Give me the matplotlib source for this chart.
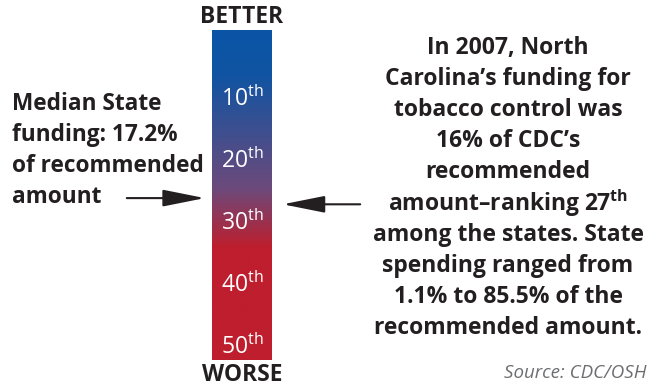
import numpy as np
import matplotlib.pyplot as plt
from matplotlib.colors import LinearSegmentedColormap

# rank scale shown on the bar
rank_ticks = [10, 20, 30, 40, 50]
median_rank = 26
nc_rank = 27

left_lines = ["Median State", "funding: 17.2%", "of recommended", "amount"]
right_lines = [
    "In 2007, North",
    "Carolina\u2019s funding for",
    "tobacco control was",
    "16% of CDC\u2019s",
    "recommended",
    "amount\u2013ranking 27$^{\\mathbf{th}}$",
    "among the states. State",
    "spending ranged from",
    "1.1% to 85.5% of the",
    "recommended amount.",
]

plt.rcParams["font.family"] = ["Open Sans", "DejaVu Sans"]
plt.rcParams["mathtext.fontset"] = "custom"
plt.rcParams["mathtext.rm"] = "Open Sans"
plt.rcParams["mathtext.bf"] = "Open Sans:bold"

W, H = 655, 387
dark = "#231f20"

fig = plt.figure(figsize=(W / 100, H / 100), dpi=100)


def fx(x):
    return x / W


def fy(y):
    return 1 - y / H


# gradient bar
ax = fig.add_axes([fx(212), fy(360), 60 / W, 330 / H])
top, bottom = -1.1, 52.1
cmap = LinearSegmentedColormap.from_list(
    "br", [(0, "#0b55a6"), (0.13, "#0f54a3"), (0.48, "#6c4a7b"),
           (0.66, "#be1e2d"), (1, "#be1e2d")])
grad = np.linspace(0, 1, 256).reshape(-1, 1)
ax.imshow(grad, extent=(0, 1, bottom, top), aspect="auto", cmap=cmap)
ax.set_xlim(0, 1)
ax.set_ylim(bottom, top)
ax.axis("off")

for r in rank_ticks:
    ax.text(0.5, r, f"{r}$^{{\\mathrm{{th}}}}$", color="white", fontsize=16.5,
            ha="center", va="center")

ax.text(0.5, top - 0.1, "BETTER", ha="center", va="bottom",
        fontsize=16.5, fontweight="bold", color=dark)
ax.text(0.5, bottom + 0.45, "WORSE", ha="center", va="top",
        fontsize=16.5, fontweight="bold", color=dark)

arrow = dict(arrowstyle="-|>,head_length=1.3,head_width=0.26", color=dark,
             lw=1.5, shrinkA=0, shrinkB=0, mutation_scale=20)
ax.annotate("", xy=(-0.12, median_rank), xytext=(-1.42, median_rank),
            xycoords=("axes fraction", "data"), textcoords=("axes fraction", "data"),
            arrowprops=arrow, annotation_clip=False)
ax.annotate("", xy=(1.18, nc_rank), xytext=(2.47, nc_rank),
            xycoords=("axes fraction", "data"), textcoords=("axes fraction", "data"),
            arrowprops=arrow, annotation_clip=False)

for i, line in enumerate(left_lines):
    fig.text(fx(12), fy(104 + i * 31), line, ha="left", va="center",
             fontsize=16.3, fontweight="bold", color=dark)

for i, line in enumerate(right_lines):
    fig.text(fx(508), fy(48 + i * 31.1), line, ha="center", va="center",
             fontsize=16.5, fontweight="bold", color=dark)

fig.text(fx(647), fy(373), "Source: CDC/OSH", ha="right", va="center",
         fontsize=13.5, style="italic", color="#6d6e71")

fig.savefig("out.png", dpi=100)
